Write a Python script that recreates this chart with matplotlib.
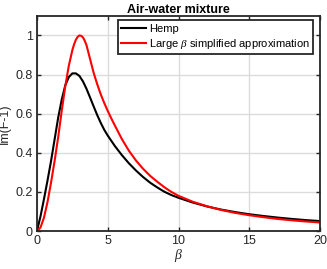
import matplotlib
matplotlib.use("Agg")
import matplotlib.pyplot as plt

beta_hemp = [0, 0.25, 0.5, 0.75, 1.0, 1.25, 1.5, 1.75, 2.0, 2.25, 2.5, 2.75, 3.0, 3.25, 3.5,
             3.75, 4.0, 4.25, 4.5, 4.75, 5.0, 5.5, 6.0, 6.5, 7.0, 7.5, 8.0, 8.5, 9.0, 9.5,
             10, 11, 12, 13, 14, 15, 16, 17, 18, 19, 20]
im_hemp = [0, 0.075, 0.165, 0.26, 0.36, 0.47, 0.58, 0.672, 0.745, 0.787, 0.806, 0.806, 0.793,
           0.765, 0.727, 0.683, 0.638, 0.594, 0.554, 0.518, 0.488, 0.435, 0.388, 0.346, 0.309,
           0.276, 0.247, 0.223, 0.201, 0.184, 0.17, 0.146, 0.126, 0.11, 0.097, 0.086, 0.077,
           0.069, 0.062, 0.056, 0.051]

beta_approx = [0, 0.25, 0.5, 0.75, 1.0, 1.25, 1.5, 1.75, 2.0, 2.25, 2.5, 2.625, 2.75, 2.875,
               3.0, 3.125, 3.25, 3.375, 3.5, 3.75, 4.0, 4.25, 4.5, 4.75, 5.0, 5.25, 5.5, 6.0,
               6.5, 7.0, 7.5, 8.0, 8.5, 9.0, 9.5, 10, 11, 12, 13, 14, 15, 16, 17, 18, 19, 20]
im_approx = [0, 0.018, 0.07, 0.15, 0.25, 0.36, 0.48, 0.615, 0.74, 0.845, 0.925, 0.955, 0.978,
             0.993, 1.0, 0.998, 0.99, 0.973, 0.95, 0.88, 0.81, 0.752, 0.70, 0.655, 0.614,
             0.576, 0.54, 0.47, 0.41, 0.36, 0.318, 0.282, 0.252, 0.224, 0.2, 0.18, 0.15,
             0.127, 0.108, 0.093, 0.081, 0.071, 0.062, 0.055, 0.049, 0.044]

x_ticks = [0, 5, 10, 15, 20]
y_ticks = [0, 0.2, 0.4, 0.6, 0.8, 1]
y_tick_labels = ["0", "0.2", "0.4", "0.6", "0.8", "1"]

plt.rcParams['font.family'] = ['Liberation Sans', 'DejaVu Sans']
plt.rcParams['mathtext.fontset'] = 'custom'
plt.rcParams['mathtext.it'] = 'Liberation Serif:italic'

fig = plt.figure(figsize=(3.27, 2.69), dpi=100)
ax = fig.add_axes([0.113, 0.141, 0.866, 0.80])

ax.plot(beta_hemp, im_hemp, color='black', lw=1.5, label='Hemp')
ax.plot(beta_approx, im_approx, color='#ff0000', lw=1.5,
        label=r'Large $\mathit{\beta}$ simplified approximation')

ax.set_xlim(0, 20)
ax.set_ylim(0, 1.1)
ax.set_xticks(x_ticks)
ax.set_yticks(y_ticks)
ax.set_yticklabels(y_tick_labels)
ax.grid(True, color='#dcdcdc', lw=1.0)
ax.set_axisbelow(True)
ax.tick_params(direction='in', top=True, right=True, length=3, width=1.0,
               labelsize=9, colors='#262626', pad=3)
for s in ax.spines.values():
    s.set_linewidth(1.3)
    s.set_color('#262626')

ax.set_title('Air-water mixture', fontsize=9, fontweight='bold', pad=2)
ax.set_xlabel(r'$\mathit{\beta}$', fontsize=10, color='#262626', labelpad=0)
ax.set_ylabel('Im(F-1)', fontsize=9, color='#262626', labelpad=3)

leg = ax.legend(loc='upper right', bbox_to_anchor=(0.976, 0.979), borderaxespad=0,
                fontsize=8, frameon=True, fancybox=False, framealpha=1,
                edgecolor='#262626', borderpad=0.3, handlelength=2.3,
                handletextpad=0.25, labelspacing=0.3)
leg.get_frame().set_linewidth(1.3)

fig.savefig('out.png', dpi=100)
